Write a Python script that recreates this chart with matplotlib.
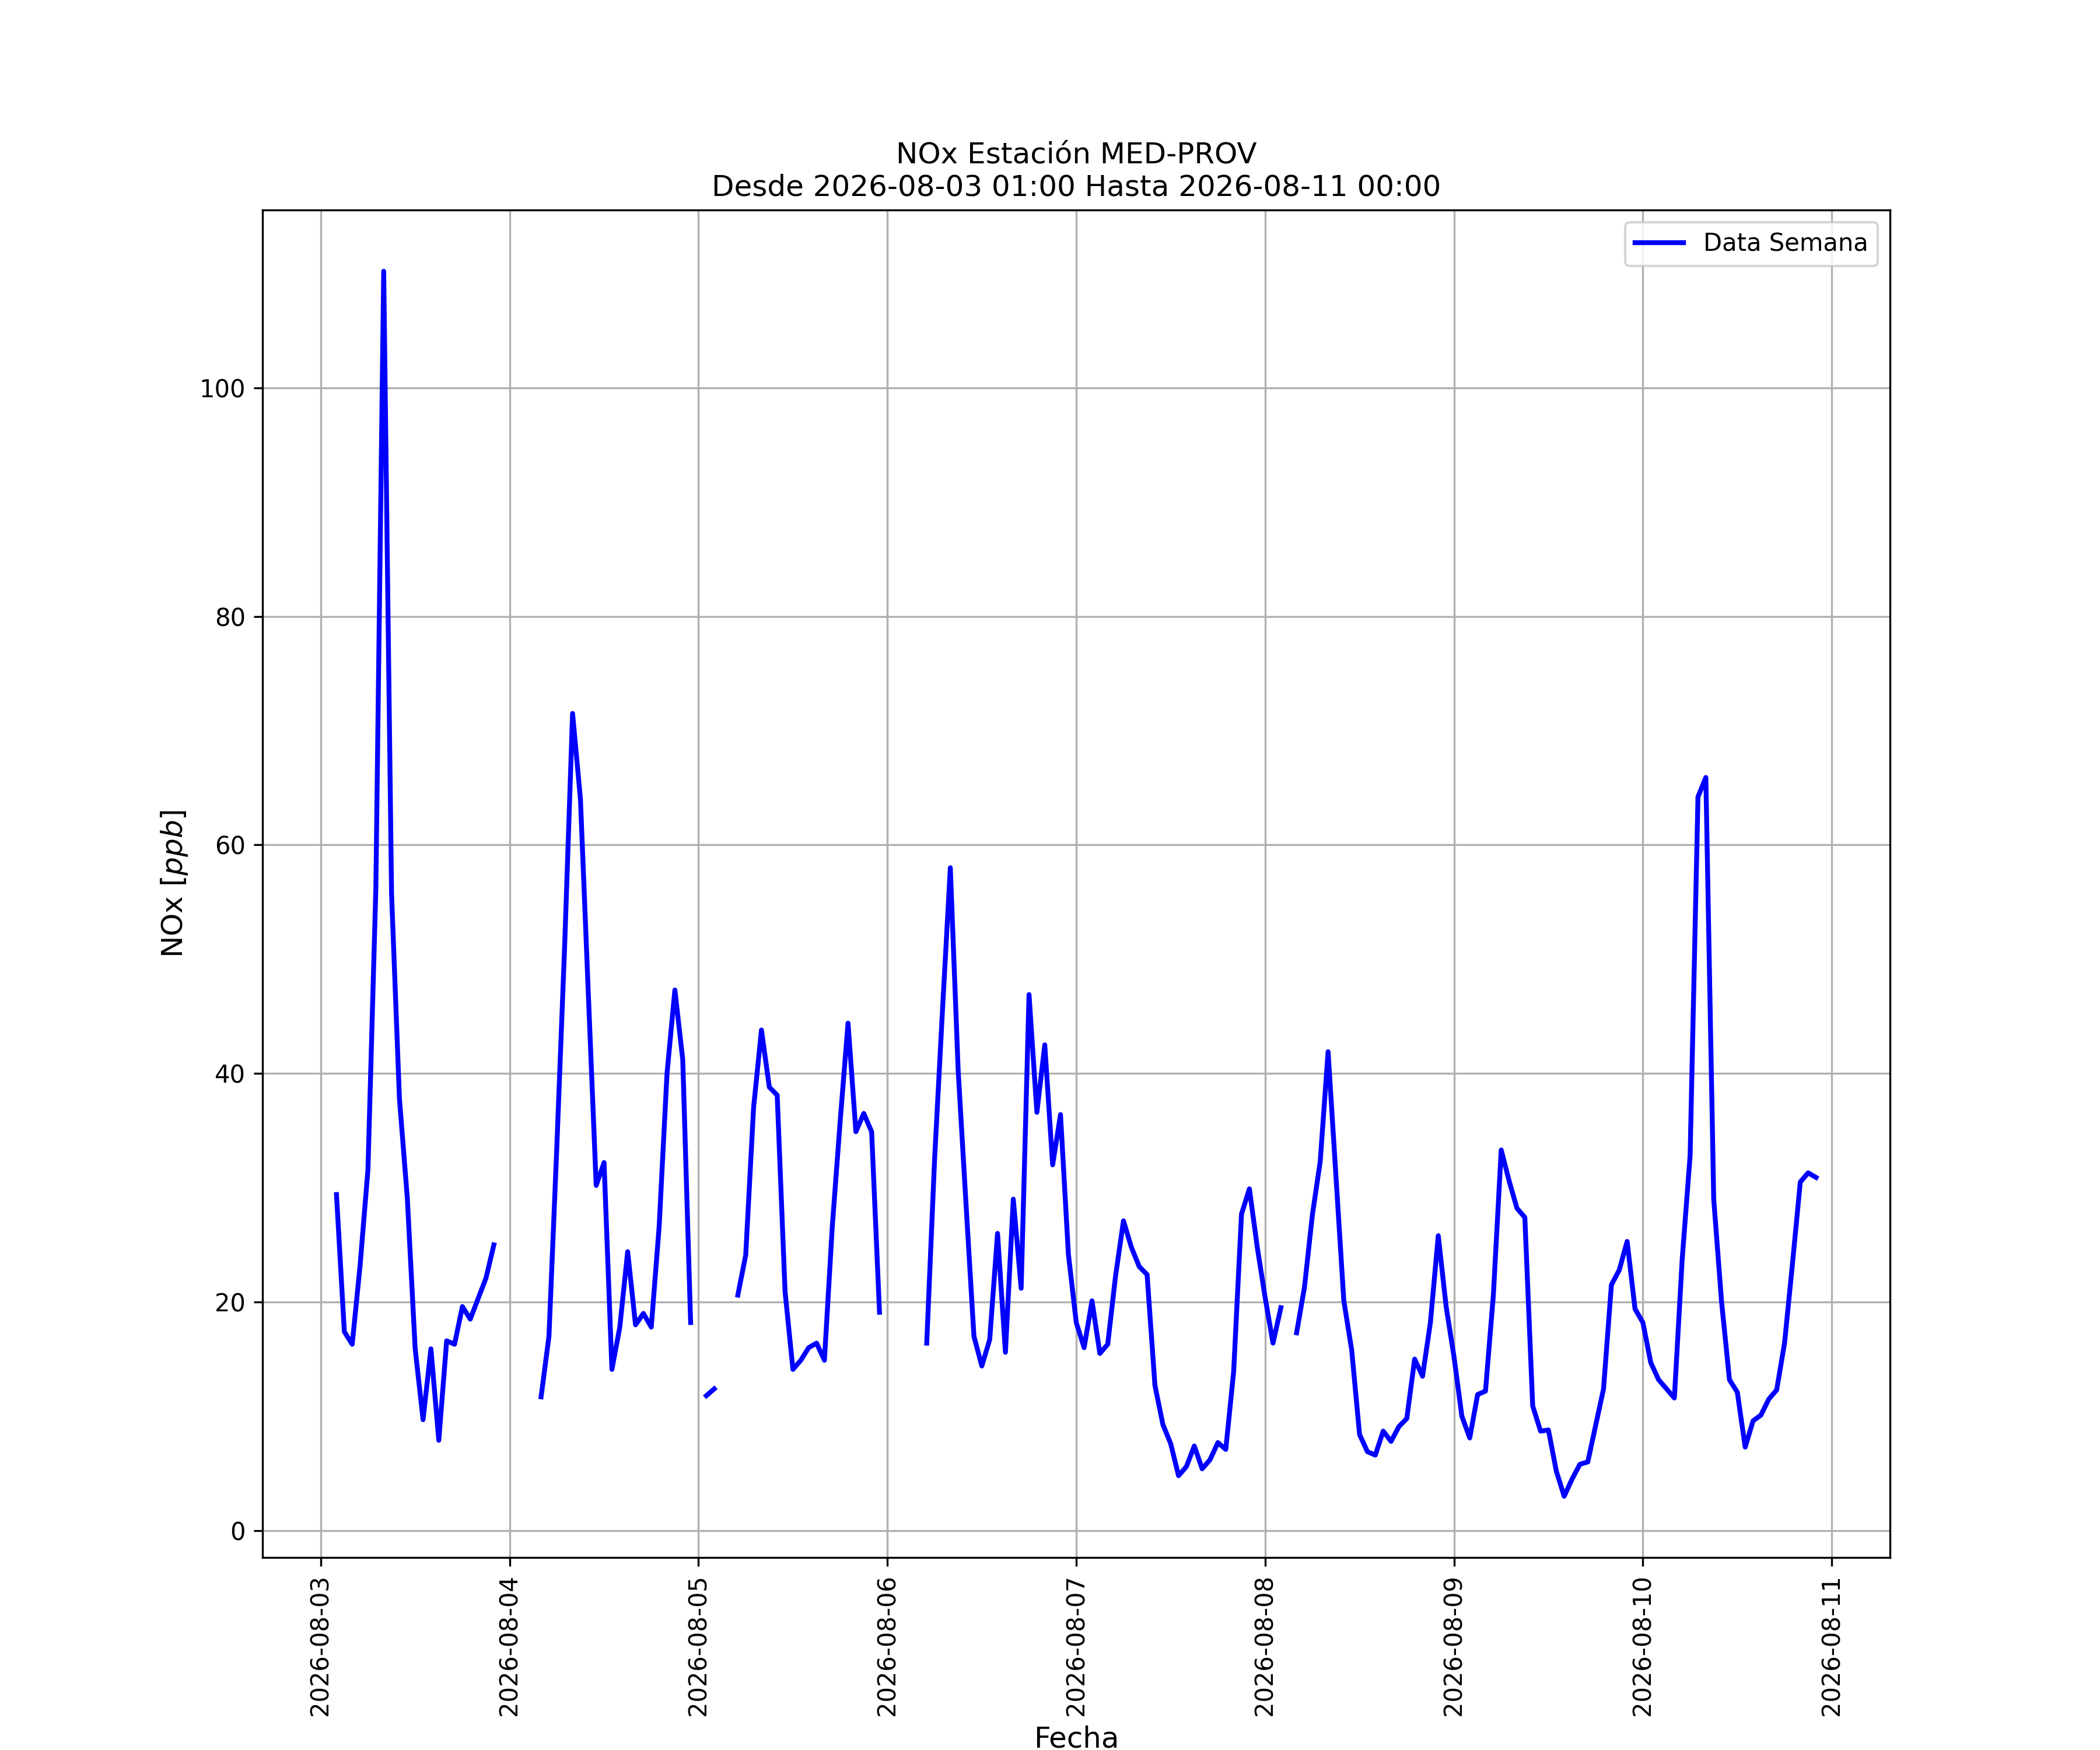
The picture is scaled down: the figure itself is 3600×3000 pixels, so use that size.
import numpy as np
import pandas as pd
import matplotlib
matplotlib.use("Agg")
import matplotlib.pyplot as plt
import matplotlib.dates as mdates

nan = np.nan

# Hourly NOx values [ppb], 2026-08-03 02:00 ... 2026-08-10 22:00
day_0803 = [29.4, 17.4, 16.3, 23.2, 31.6, 56.1, 110.2, 55.7, 37.8, 29.1, 15.9,
            9.7, 15.9, 7.9, 16.6, 16.3, 19.6, 18.5, 20.3, 22.1, 25.0, nan]  # 02..23
day_0804 = [nan, nan, nan, nan, 11.7, 17.0, 33.6, 51.3, 71.5, 64.0, 47.0, 30.2,
            32.2, 14.1, 17.8, 24.4, 18.0, 19.0, 17.8, 26.6, 40.0, 47.3, 41.2, 18.2]
day_0805 = [nan, 11.8, 12.4, nan, nan, 20.6, 24.1, 37.0, 43.8, 38.8, 38.1, 20.9,
            14.1, 14.9, 16.0, 16.4, 14.9, 26.6, 35.8, 44.4, 34.9, 36.5, 34.9, 19.1]
day_0806 = [nan, nan, nan, nan, nan, 16.4, 32.5, 45.5, 58.0, 40.2, 28.5, 17.0,
            14.4, 16.7, 26.0, 15.6, 29.0, 21.2, 46.9, 36.6, 42.5, 32.0, 36.4, 24.2]
day_0807 = [18.2, 16.0, 20.1, 15.5, 16.3, 22.3, 27.1, 24.8, 23.1, 22.4, 12.7, 9.3,
            7.6, 4.8, 5.6, 7.4, 5.4, 6.2, 7.7, 7.1, 13.9, 27.7, 29.9, 24.8]
day_0808 = [20.4, 16.4, 19.5, nan, 17.3, 21.3, 27.6, 32.3, 41.9, 31.0, 20.1, 15.8,
            8.4, 6.9, 6.6, 8.7, 7.8, 9.1, 9.8, 15.0, 13.5, 18.2, 25.8, 19.6]
day_0809 = [15.2, 10.0, 8.1, 11.9, 12.2, 20.6, 33.3, 30.6, 28.2, 27.4, 10.9, 8.7,
            8.8, 5.2, 3.0, 4.5, 5.8, 6.0, 9.2, 12.4, 21.5, 22.8, 25.3, 19.4]
day_0810 = [18.2, 14.7, 13.2, 12.4, 11.6, 23.8, 32.8, 64.2, 65.9, 29.0, 20.0, 13.2,
            12.1, 7.3, 9.6, 10.1, 11.5, 12.3, 16.4, 23.3, 30.5, 31.3, 30.9]  # 00..22

values = (day_0803 + day_0804 + day_0805 + day_0806 + day_0807 +
          day_0808 + day_0809 + day_0810)
times = pd.date_range("2026-08-03 02:00", periods=len(values), freq="h")

title_text = "NOx Estación MED-PROV\nDesde 2026-08-03 01:00 Hasta 2026-08-11 00:00"

fig, ax = plt.subplots(figsize=(12, 10), dpi=300)
ax.plot(times, values, color="blue", linewidth=2, label="Data Semana")

ax.set_title(title_text, fontsize=12)
ax.set_xlabel("Fecha", fontsize=12)
ax.set_ylabel("NOx $[ppb]$", fontsize=12)
ax.grid(True)
ax.legend(loc="upper right")

ax.xaxis.set_major_locator(mdates.DayLocator())
ax.xaxis.set_major_formatter(mdates.DateFormatter("%Y-%m-%d"))
plt.setp(ax.get_xticklabels(), rotation=90)

fig.savefig("out.png", dpi=300)
